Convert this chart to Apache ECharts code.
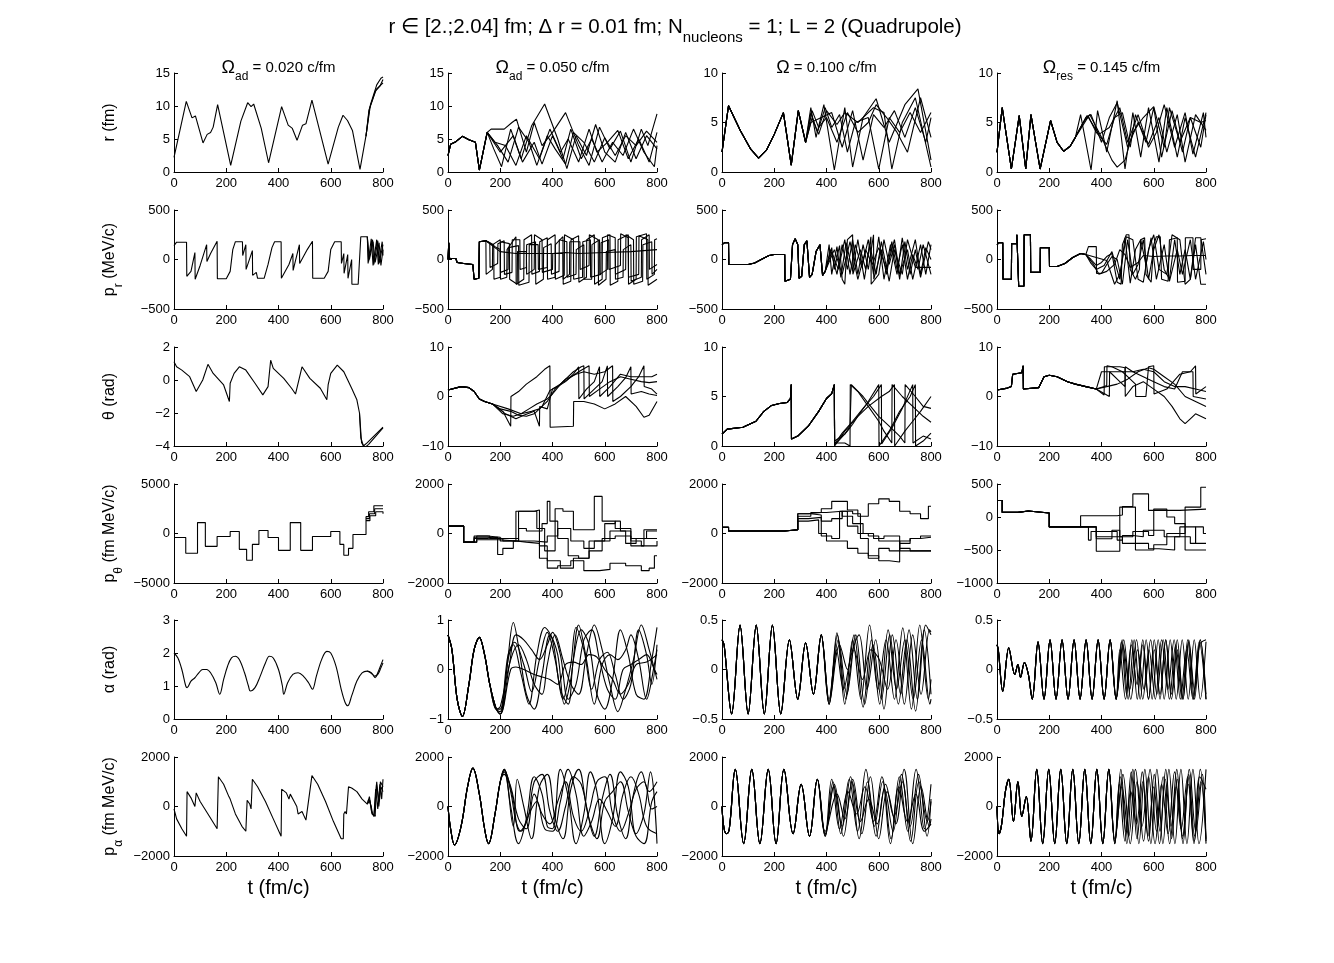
<!DOCTYPE html>
<html>
<head>
<meta charset="utf-8">
<script src="https://cdn.jsdelivr.net/npm/echarts@6/dist/echarts.min.js"></script>
<style>
  html, body { margin: 0; background: #fff; }
  #chart { width: 1334px; height: 963px; }
</style>
</head>
<body>
<div id="chart"></div>
<script>
// values, flat [t, v, t, v, ...]
const xTicks = [0, 200, 400, 600, 800];
const yMinRows = [[0, 0, 0, 0], [-500, -500, -500, -500], [-4, -10, 0, -10], [-5000, -2000, -2000, -1000], [0, -1, -0.5, -0.5], [-2000, -2000, -2000, -2000]];
const yMaxRows = [[15, 15, 10, 10], [500, 500, 500, 500], [2, 10, 10, 10], [5000, 2000, 2000, 500], [3, 1, 0.5, 0.5], [2000, 2000, 2000, 2000]];
const yStepRows = [[5, 5, 5, 5], [500, 500, 500, 500], [2, 10, 5, 10], [5000, 2000, 2000, 500], [1, 1, 0.5, 0.5], [2000, 2000, 2000, 2000]];

// ---- r ----
const r1 = [0,2.2, 47,10.7, 69,8.2, 82,8.5, 111,4.4, 127,5.7, 140,6.0, 150,6.8, 167,10.2, 217,1.0, 256,7.7, 282,10.5, 295,9.9, 305,10.3, 334,6.6, 362,1.4, 412,9.9, 437,7.1, 453,6.6, 471,4.8, 492,7.1, 505,7.3, 528,10.9, 590,1.2, 629,6.8, 647,8.6, 664,7.8, 683,6.3, 712,0.4, 735,5.5, 748,9.6, 774,12.5, 800,13.5];
const r1TailA = [735,5.5, 752,10.2, 776,13.2, 792,14.2, 800,14.4];
const r1TailB = [735,5.4, 746,9.3, 770,12.2, 788,13.0, 800,14.0];

const r2Common = [0,2.5, 10,4.2, 30,4.6, 55,5.4, 80,4.9, 105,4.5, 120,0.3, 150,6.0];
const r2A = [175,3.5, 205,0.8, 240,6.5, 280,2, 320,7, 370,10.3, 420,5, 455,0.5, 490,5.5, 530,2.5, 565,7.2, 600,3, 640,1.5, 680,6, 720,2, 760,5.5, 800,3.5];
const r2B = [165,6.5, 215,6.5, 245,7.5, 262,8, 300,3, 330,7.5, 360,4, 400,6, 450,9, 500,4, 540,1, 580,6.8, 620,3.5, 660,6.2, 700,1.5, 740,6.5, 765,4, 800,8.8];
const r2C = [190,4, 230,1.5, 270,6.8, 310,4.5, 340,1, 380,5.5, 410,3.5, 450,1.2, 480,6, 520,4.5, 560,1.5, 600,5.2, 640,2.5, 680,5.5, 720,4, 760,6.2, 800,4.5];
const r2D = [200,3, 250,5.5, 285,1.5, 330,4.5, 360,1.2, 400,5.5, 440,2, 470,6.5, 510,2, 550,5, 590,1.5, 630,4.5, 670,2.5, 710,6.5, 750,3, 790,0.8, 800,4];
const r2E = [180,4.5, 220,4, 260,1, 300,5.5, 350,2, 390,6.5, 430,3, 460,5, 500,1.5, 540,6.5, 570,3, 610,4.5, 650,6.3, 690,2, 730,5, 770,1.5, 800,6];

const r3Common = [0,2, 25,6.7, 70,4.2, 110,2.3, 140,1.4, 170,2.2, 200,3.8, 235,6, 265,0.7, 292,6.2, 320,3];
const r3A = [340,6.5, 360,3.5, 390,6.8, 430,0.2, 470,6.5, 500,0.5, 540,5.5, 590,7.4, 640,3, 700,6.8, 750,8.4, 800,1.2];
const r3B = [340,6, 365,4, 395,6.5, 420,4.5, 450,5.8, 480,2, 510,5, 560,5.5, 600,0.3, 640,5.5, 680,4, 720,6, 760,4, 800,6];
const r3C = [345,5.5, 370,3.8, 400,6.2, 440,4.8, 470,6, 520,5, 580,6.5, 620,6, 650,0.3, 690,5, 740,7.5, 800,0.5];
const r3D = [340,5, 380,5.5, 420,6, 460,2.5, 500,6.2, 540,1.2, 580,5.8, 620,4.5, 660,6.2, 700,3.5, 740,6.5, 780,3, 800,5.5];
const r3E = [345,6.2, 370,4.5, 400,5.5, 440,3, 480,6, 520,4, 560,5, 590,6.8, 630,5.5, 670,4, 710,2, 760,7.5, 800,3.5];

const r4Common = [0,2, 20,6.5, 55,0.3, 85,5.7, 110,0.3, 130,5.8, 165,0.3, 205,5.2, 230,3, 255,2.1, 280,2.6, 300,3.5];
const r4A = [320,5.8, 360,0.2, 385,6.2, 420,2, 460,7.2, 490,0.3, 520,6, 550,1.5, 580,6.5, 620,1, 650,6.5, 690,1.5, 720,5.5, 760,1.5, 800,6];
const r4B = [330,5, 355,5.8, 400,3.5, 440,1.2, 460,0.5, 490,1.2, 520,4, 560,5.5, 600,6.6, 640,2.5, 660,6.5, 700,3, 740,5.5, 780,5, 800,5.2];
const r4C = [340,5.5, 360,5.8, 400,3, 430,5.5, 460,7, 500,2.5, 540,5, 580,2.8, 620,5.5, 650,2, 690,5.8, 720,1, 760,5.8, 800,4.2];
const r4D = [350,5.6, 380,4, 420,2.8, 450,5.5, 480,6, 510,2.5, 530,5.8, 570,3, 600,6.5, 630,1.5, 670,6.2, 710,2, 740,5.5, 780,2.5, 800,5.8];
const r4E = [345,5.7, 390,3.8, 430,4.5, 470,6.5, 500,3, 540,5.8, 580,2.5, 610,4, 640,6.8, 680,2.5, 720,6, 750,1.8, 790,6, 800,3.5];

// ---- p_r ----
const pr1 = [0,140, 10,175, 48,175, 49,-170, 65,-120, 80,70, 81,-200, 100,-60, 125,150, 126,-20, 140,60, 165,185, 166,-195, 200,-195, 215,-120, 225,100, 235,180, 262,180, 263,40, 275,150, 276,-100, 300,90, 301,-160, 315,-130, 320,-190, 345,-190, 360,-50, 375,120, 385,180, 410,180, 411,-190, 440,-50, 455,60, 456,-110, 480,150, 481,-40, 510,100, 530,185, 531,-190, 575,-190, 590,-120, 600,100, 615,180, 640,180, 641,-40, 650,60, 651,-140, 665,50, 666,-190, 680,0, 681,-250, 705,-250, 715,230, 740,230, 745,-20, 760,200, 765,-50, 780,190, 785,-40, 800,150];
const pr1TailA = [740,230, 748,0, 762,180, 770,-30, 785,170, 792,-60, 800,100];
const pr1TailB = [740,230, 743,-40, 755,210, 762,-60, 776,200, 782,-50, 797,180, 800,40];

const pr2Common = [0,0, 3,170, 6,10, 30,10, 35,-30, 60,-40, 95,-50, 100,-200, 118,-190, 120,180, 145,190];
const pr2A = [146,-150, 170,-100, 171,150, 200,200, 201,-200, 225,-180, 226,100, 260,230, 261,-250, 290,-200, 291,200, 320,250, 321,-150, 350,-120, 351,180, 380,220, 381,-200, 410,-180, 411,150, 440,230, 441,-250, 470,-220, 471,200, 500,240, 501,-230, 530,-180, 531,200, 560,250, 561,-250, 590,-200, 591,220, 620,250, 621,-260, 650,-220, 651,200, 690,250, 691,-250, 720,-200, 721,230, 760,260, 761,-200, 790,-150, 791,200, 800,210];
const pr2B = [160,170, 161,-80, 190,-40, 191,160, 215,190, 216,-150, 245,-130, 246,200, 275,200, 276,-100, 300,-80, 301,150, 335,180, 336,-250, 365,-200, 366,120, 395,160, 396,-150, 425,-120, 426,200, 455,180, 456,-180, 490,-150, 491,100, 520,150, 521,-200, 550,-200, 551,150, 580,200, 581,-150, 610,-100, 611,250, 640,220, 641,-200, 670,-180, 671,100, 700,150, 701,-220, 740,-180, 741,200, 770,250, 771,-100, 800,-50];
const pr2C = [175,150, 176,-200, 200,-180, 201,180, 235,160, 236,-200, 265,-250, 266,80, 300,80, 301,-150, 330,-100, 331,250, 360,200, 361,-130, 400,-100, 401,60, 440,60, 441,-200, 465,-150, 466,180, 505,180, 506,-100, 540,-60, 541,250, 575,200, 576,-260, 605,-200, 606,80, 640,100, 641,-150, 680,-100, 681,250, 710,200, 711,-250, 745,-220, 746,150, 780,180, 781,-150, 800,-100];
const pr2D = [180,130, 200,100, 201,-130, 230,-100, 231,120, 270,140, 271,-260, 310,-230, 311,150, 345,150, 346,-100, 380,-80, 381,200, 410,250, 411,-200, 445,-160, 446,250, 480,200, 481,-200, 515,-180, 516,180, 545,200, 546,-180, 585,-150, 586,170, 615,200, 616,-100, 660,-60, 661,260, 690,220, 691,-180, 730,-150, 731,240, 765,200, 766,-260, 800,-200];
const pr2E = [200,80, 260,60, 300,60, 400,60, 450,70, 500,60, 600,70, 700,80, 800,100];

const pr3Common = [0,150, 10,170, 25,170, 26,-50, 100,-50, 125,-35, 150,0, 180,40, 200,50, 240,50, 241,-220, 262,-200, 270,150, 280,210, 290,150, 295,-190, 305,-170, 315,150, 325,190, 335,-180, 345,-150, 360,80, 375,150, 385,-160, 395,-120];
const pr3A = [420,120, 430,-100, 450,140, 460,-200, 470,-250, 480,200, 500,250, 501,-150, 530,100, 550,-100, 570,230, 571,-250, 600,-150, 620,200, 640,-50, 660,150, 680,-200, 700,180, 720,-150, 740,100, 760,-180, 790,180, 800,100];
const pr3B = [415,100, 440,-150, 460,150, 480,-100, 500,200, 520,-150, 540,150, 560,-100, 580,250, 581,-200, 610,100, 630,-150, 650,180, 670,-100, 690,150, 710,-200, 730,50, 750,-100, 770,150, 800,-150];
const pr3C = [410,150, 420,-150, 440,130, 455,-180, 475,170, 500,-120, 520,200, 545,-200, 565,150, 590,-150, 610,180, 640,-220, 660,100, 690,-150, 710,200, 740,-80, 760,-80, 800,-80];
const pr3D = [420,80, 445,-100, 470,200, 490,-150, 510,150, 535,-80, 560,200, 580,-150, 600,230, 620,-200, 645,150, 670,-150, 690,220, 710,-100, 740,200, 760,-150, 780,120, 800,0];
const pr3E = [430,100, 460,-150, 490,180, 520,-200, 550,100, 575,-50, 600,120, 630,-100, 660,200, 680,-150, 710,100, 730,-200, 760,150, 780,-150, 800,150];

const pr4Common = [0,150, 8,170, 22,170, 23,-200, 55,-200, 56,160, 75,160, 76,250, 82,250, 83,-270, 103,-270, 104,250, 128,250, 129,-130, 165,-130, 166,120, 200,120, 201,-70, 230,-70, 260,-40, 290,20, 320,60, 340,50];
const pr4A = [360,0, 380,-60, 400,-30, 420,30, 440,60, 460,-230, 475,-250, 480,150, 495,250, 505,250, 510,-100, 530,-200, 545,-100, 550,200, 565,220, 570,-150, 590,-230, 600,150, 610,230, 625,230, 630,-200, 655,-220, 660,200, 690,220, 691,-230, 720,-220, 721,220, 750,220, 751,-100, 780,-100, 781,200, 800,210];
const pr4B = [350,130, 380,130, 381,-140, 400,-140, 420,-50, 440,30, 460,0, 480,-250, 500,200, 520,-150, 540,-50, 560,200, 580,-200, 600,100, 620,250, 640,-100, 660,-200, 680,200, 700,-150, 720,100, 740,-200, 760,150, 780,-250, 800,-250];
const pr4C = [370,-50, 390,-150, 420,-120, 450,-50, 470,100, 490,50, 510,-80, 540,-30, 560,40, 600,30, 650,35, 700,35, 750,40, 800,40];
const pr4D = [360,-40, 380,-100, 410,-60, 440,80, 470,-200, 490,220, 510,-240, 530,100, 550,200, 570,-50, 590,220, 610,-200, 640,150, 660,-220, 690,100, 710,-150, 740,200, 760,-200, 790,180, 800,0];
const pr4E = [380,20, 420,-10, 450,-250, 470,-150, 495,230, 520,200, 540,-200, 560,-230, 580,100, 600,250, 620,-100, 650,-150, 670,250, 700,200, 720,-250, 740,-200, 760,220, 780,220, 800,-150];

// ---- theta ----
const th1 = [0,1.1, 10,0.8, 30,0.6, 60,0.2, 85,-0.7, 110,0, 130,0.95, 150,0.4, 190,-0.3, 212,-1.3, 215,-0.2, 230,0.4, 250,0.8, 275,0.6, 310,-0.2, 340,-0.9, 360,-0.4, 370,1.2, 380,0.7, 420,0.1, 450,-0.5, 465,-0.85, 490,0.8, 520,0.1, 560,-0.5, 585,-1.2, 590,-0.3, 600,0.4, 625,0.9, 650,0.5, 680,-0.5, 700,-1.2, 710,-2, 715,-3.5, 725,-4, 740,-3.8, 800,-2.85];
const th1Tail = [710,-2, 718,-3.8, 730,-4.1, 745,-3.9, 800,-2.9];

const th2Common = [0,1.3, 50,2, 80,1.8, 100,1, 120,-0.5, 140,-1, 170,-1.5];
const th2A = [210,-3, 240,-6, 241,0, 270,1, 300,2.5, 340,4, 370,5.5, 390,6.2, 391,-6.2, 480,-6, 481,-1, 520,-1, 560,-1.5, 600,-2.5, 640,-1.5, 680,0, 720,-2, 750,-4.2, 770,-3.8, 800,-1];
const th2B = [220,-3.5, 260,-4.5, 290,-3.8, 330,-3, 350,-6, 351,-2, 380,-2.5, 400,1.5, 430,2.5, 460,3.5, 500,5, 540,6.2, 541,0, 580,1.5, 620,3, 660,4, 700,3.5, 740,3, 770,2.8, 800,3];
const th2C = [210,-3.5, 250,-4, 280,-3.5, 310,-2.5, 340,-1.5, 380,-0.5, 400,0.5, 420,1.8, 440,3, 480,5, 510,6, 520,6.2, 521,-0.5, 560,1.5, 590,3, 610,6.2, 611,0, 650,2, 680,3.8, 700,6, 701,0.5, 740,1, 770,0.5, 800,0.2];
const th2D = [200,-2.5, 240,-3, 270,-3.8, 300,-4, 330,-3.5, 360,-2, 390,1.2, 420,2, 450,3, 480,4.5, 500,6, 501,-0.5, 530,1.5, 560,3, 580,6, 581,0, 620,2, 660,4.5, 700,4, 740,4, 780,4, 800,4.5];
const th2E = [230,-2.5, 280,-3.5, 320,-3, 350,-2.5, 380,-1, 410,1.5, 450,3.5, 490,4.5, 520,5, 560,4.5, 600,5, 630,6.2, 631,-1, 660,0, 700,2, 730,4, 750,6.2, 751,2, 780,1.5, 800,0.5];

const th3Common = [0,1.2, 20,1.7, 80,1.9, 130,2.5, 160,3.5, 190,4.1, 220,4.3, 250,4.4, 262,4.8, 265,6.2, 266,0.7, 290,1, 330,2, 370,3.5, 400,4.8, 420,5.3, 430,6.2];
const th3A = [431,0, 470,1.5, 520,3, 560,4.5, 600,6.2, 601,0, 640,1.5, 680,3.5, 720,5, 740,6.2, 741,0, 770,0.5, 800,1.3];
const th3B = [431,0.2, 460,1.3, 500,2.5, 540,3.8, 580,5, 610,6.2, 611,0.2, 650,1.8, 690,3.8, 730,6.2, 731,0.3, 770,1, 800,0.7];
const th3C = [431,0.5, 470,1.2, 490,2, 495,6.2, 540,5, 560,4.3, 600,3, 640,2, 680,1, 700,0.3, 701,6.2, 740,5, 770,4, 800,3.8];
const th3D = [431,0.3, 470,0.3, 490,0, 491,6.2, 520,5.5, 560,4, 600,2.5, 620,1.5, 650,0.3, 651,6.2, 690,5, 730,4, 770,3, 800,2.4];
const th3E = [431,0.1, 480,1.5, 500,2.2, 520,3, 560,4, 610,5, 640,5.5, 660,6.2, 661,0, 700,1.5, 730,2.5, 760,3.5, 800,5];

const th4Common = [0,1.3, 40,1.7, 55,2, 60,4.5, 95,4.8, 100,6.2, 101,1.5, 160,1.8, 180,4, 200,4.3, 230,4, 270,3, 300,2.5, 340,2, 380,1.5];
const th4A = [410,0.3, 411,6, 470,6, 490,5.8, 491,0, 520,2, 560,3, 600,1.5, 640,0, 670,-2, 700,-4.5, 720,-5.5, 740,-4.5, 760,-3.5, 800,-4.5];
const th4B = [420,2, 460,2.5, 480,3, 500,3.5, 540,5, 580,5.8, 600,5.5, 640,4, 680,2.5, 720,0, 760,-1, 800,-2];
const th4C = [410,2, 420,2.2, 421,6.2, 440,6, 460,5.5, 480,5, 500,4, 520,3, 530,2.5, 531,0, 570,0, 580,6, 600,6.2, 601,0.5, 650,1.5, 700,4.5, 740,5, 760,6.2, 761,0.5, 800,2];
const th4D = [400,5, 440,5, 480,5, 520,5, 560,5.5, 600,5, 640,3, 680,2, 720,2, 760,1.5, 800,1];
const th4E = [430,0, 431,5, 470,3, 490,2, 491,6, 520,5, 560,4, 600,3, 640,2, 680,1.5, 710,5, 750,5, 751,0, 800,-0.5];

// ---- p_theta (steps: value holds until next t) ----
const pt1 = [0,-400, 45,-2000, 90,1100, 120,-1300, 165,-300, 215,200, 250,-1600, 278,-2700, 300,-1100, 325,300, 360,-400, 400,-1700, 445,1100, 485,-1700, 530,-300, 600,200, 635,-1100, 650,-2200, 668,-1500, 685,-100, 735,1700, 745,2200, 765,2800, 800,2800];
const pt1TailA = [735,1500, 748,2000, 768,2500, 800,2500];
const pt1TailB = [735,1300, 750,1800, 772,2200, 800,2000];

const pt2A = [0,300, 60,-350, 110,-250, 200,-300, 260,900, 330,950, 350,-1000, 380,-1400, 420,-1300, 470,-1100, 520,-1500, 580,-1450, 620,-1200, 680,-1300, 740,-1500, 770,-1400, 790,-900, 800,-900];
const pt2B = [0,300, 60,-350, 110,-100, 150,-150, 200,-300, 270,900, 340,200, 370,-700, 410,1000, 440,900, 480,150, 560,1500, 590,500, 640,200, 700,-500, 750,150, 800,150];
const pt2C = [0,300, 60,-350, 100,-200, 150,-150, 190,-850, 210,-600, 250,-300, 270,200, 300,100, 360,400, 380,1300, 390,500, 420,-200, 460,-900, 500,-1000, 540,-300, 600,400, 640,500, 660,100, 700,-300, 740,-500, 800,-300];
const pt2D = [0,300, 60,-350, 100,-100, 160,-200, 220,-200, 270,-300, 330,-350, 380,-100, 420,200, 470,-300, 520,-600, 560,-300, 620,100, 680,-400, 720,-200, 760,100, 800,100];
const pt2E = [0,300, 60,-350, 100,-150, 150,-200, 210,-300, 260,-350, 300,-400, 350,-500, 380,-1100, 430,-1400, 480,-1000, 540,-700, 590,-200, 640,-100, 700,-200, 740,-200, 800,-200];

const pt3Common = [0,250, 25,100, 240,150];
const pt3A = [290,800, 330,850, 380,1000, 420,1300, 480,950, 520,700, 560,1200, 600,1400, 640,1300, 680,900, 720,800, 760,600, 790,1100, 800,1100];
const pt3B = [290,700, 340,850, 400,900, 460,700, 500,400, 540,0, 580,-200, 620,-100, 680,-700, 720,-700, 760,-700, 800,-700];
const pt3C = [290,600, 330,650, 380,-100, 420,-200, 450,900, 500,800, 530,-200, 560,-900, 600,-1100, 640,-1150, 680,-400, 720,-200, 760,-100, 800,-100];
const pt3D = [290,500, 330,550, 370,0, 400,-300, 450,-300, 480,-600, 520,-800, 560,-1000, 600,-600, 640,-700, 680,-300, 720,-200, 760,-150, 800,-150];
const pt3E = [290,800, 340,750, 380,500, 420,600, 460,900, 480,300, 520,0, 560,-100, 600,-300, 640,-300, 680,-600, 720,-700, 760,-700, 800,-700];

const pt4Common = [0,250, 20,70, 80,90, 120,60, 200,-150];
const pt4A = [320,20, 460,30, 480,160, 520,350, 580,100, 640,100, 700,120, 800,120];
const pt4B = [330,-150, 350,-350, 360,-220, 420,-220, 460,-350, 480,-280, 520,-300, 560,-200, 640,-300, 700,-150, 760,-400, 800,-400];
const pt4C = [330,-150, 380,-520, 460,-520, 470,150, 520,150, 530,-500, 600,-420, 650,-250, 720,150, 760,150, 780,450, 800,450];
const pt4D = [330,-150, 380,-330, 440,-200, 470,-300, 520,-220, 580,-280, 600,120, 650,0, 680,-100, 720,-500, 800,-500];
const pt4E = [330,-150, 380,-300, 440,-300, 480,-400, 540,-400, 580,-480, 620,-500, 680,-300, 740,-400, 760,-150, 790,-250, 800,-250];

// ---- alpha ----
const al1 = [0,2, 15,1.85, 30,1.5, 45,1.0, 50,0.95, 65,1.15, 80,1.25, 95,1.4, 110,1.5, 125,1.5, 140,1.4, 160,1.1, 175,0.75, 190,1.2, 205,1.6, 220,1.85, 235,1.9, 250,1.8, 270,1.4, 285,1.0, 292,0.85, 310,0.95, 330,1.3, 350,1.7, 365,1.9, 380,1.85, 400,1.5, 415,1.0, 420,0.75, 435,1.1, 455,1.35, 475,1.4, 495,1.3, 515,1.1, 530,0.9, 545,1.3, 565,1.8, 585,2.05, 600,2.0, 620,1.6, 640,0.9, 655,0.5, 665,0.4, 680,0.7, 700,1.15, 720,1.4, 740,1.45, 760,1.35, 770,1.25, 780,1.4, 790,1.6, 800,1.8];
const al1Tail = [740,1.45, 755,1.4, 768,1.3, 780,1.35, 792,1.55, 800,1.7];

const al2Common = [0,0.7, 15,0.4, 35,-0.6, 55,-0.95, 80,-0.3, 100,0.4, 120,0.65, 140,0.3, 160,-0.3, 185,-0.8];
const al2A = [200,-0.9, 225,0, 250,0.95, 275,0.3, 300,-0.5, 330,-0.8, 360,-0.1, 390,0.7, 420,0.3, 445,-0.7, 470,-0.2, 500,0.9, 530,0.2, 560,-0.7, 590,0.1, 620,0.3, 650,0.2, 680,0.4, 700,0.7, 730,0.2, 760,-0.6, 790,0.1, 800,0.4];
const al2B = [200,-0.8, 230,0.3, 255,0.55, 290,0.1, 320,-0.45, 350,0.2, 380,0.75, 410,0.2, 440,-0.6, 470,0.1, 490,0.85, 520,0.4, 550,-0.4, 580,0.2, 610,0.35, 640,-0.1, 670,-0.6, 700,-0.3, 730,0.8, 760,0.3, 780,-0.3, 800,0.5];
const al2C = [200,-0.85, 230,0.2, 250,0.5, 280,-0.1, 310,-0.7, 340,0.3, 370,0.85, 400,0.6, 430,-0.4, 460,-0.7, 480,0.2, 510,0.8, 540,0.5, 570,-0.5, 600,-0.8, 630,-0.2, 660,0.8, 690,0.3, 720,-0.5, 750,-0.6, 780,0.2, 800,0.85];
const al2D = [200,-0.9, 235,0.1, 260,0.7, 290,0.6, 320,0.4, 350,0.2, 380,0.5, 400,0.75, 430,0.3, 460,-0.6, 490,-0.3, 520,0.6, 550,0.8, 580,0.2, 610,-0.4, 640,-0.6, 670,0, 700,0.1, 730,0.2, 760,0.3, 790,0, 800,-0.1];
const al2E = [200,-0.75, 240,0.2, 270,0.5, 300,0.2, 330,-0.3, 360,-0.5, 380,0.1, 410,0.7, 440,0.2, 470,-0.3, 500,-0.5, 530,0.3, 560,0.9, 590,0.4, 620,-0.3, 650,-0.85, 680,-0.4, 710,0.2, 740,0.9, 770,0.4, 800,-0.2];
const al2F = [200,-0.9, 240,0, 260,0.05, 290,0, 330,-0.1, 360,-0.15, 390,-0.2, 420,-0.3, 450,0.1, 480,0.15, 510,0.1, 540,0.3, 570,0.25, 600,0, 630,-0.2, 660,-0.5, 690,-0.3, 720,0.1, 760,0.15, 800,0.3];

const al3Common = [0,0.3, 8,0.25, 37,-0.45, 69,0.45, 100,-0.45, 131,0.45, 162,-0.45, 193,0.45, 225,-0.45, 258,0.3, 290,-0.3, 320,0.27, 350,-0.25, 380,0.35];
const al3A = [410,-0.35, 440,0.37, 470,-0.35, 500,0.3, 532,-0.3, 565,0.45, 597,-0.2, 628,0.3, 660,-0.3, 692,0.42, 725,-0.4, 757,0.45, 790,-0.3, 800,-0.1];
const al3B = [410,-0.35, 445,0.3, 478,-0.25, 512,0.35, 546,-0.35, 578,0.25, 610,-0.3, 642,0.35, 675,-0.35, 708,0.3, 741,-0.42, 774,0.4, 800,-0.25];
const al3C = [410,-0.3, 438,0.2, 465,-0.2, 495,0.15, 525,0.35, 555,-0.2, 588,0.3, 620,-0.4, 652,0.35, 684,-0.25, 716,0.4, 748,-0.3, 780,0.45, 800,0.35];
const al3D = [410,-0.35, 450,0.25, 480,0, 505,0.35, 540,-0.38, 572,0.3, 604,-0.35, 636,0.4, 668,-0.2, 700,0.3, 732,-0.3, 764,0.3, 796,-0.35, 800,-0.3];
const al3E = [410,-0.32, 442,0.35, 474,-0.3, 506,0.2, 538,-0.1, 570,0.2, 602,0.1, 634,-0.2, 666,0.3, 698,-0.35, 730,0.35, 762,-0.25, 794,0.4, 800,0.38];

const al4Common = [0,0.25, 5,0.2, 22,-0.22, 45,0.22, 68,-0.05, 80,0.05, 90,-0.08, 105,0.07, 120,-0.05, 135,-0.3, 157,0.28, 180,-0.3, 203,0.3, 226,-0.3, 249,0.3, 272,-0.3, 295,0.3, 318,-0.3, 341,0.3, 364,-0.3, 387,0.3, 410,-0.3, 433,0.3];
const al4A = [456,-0.3, 479,0.3, 502,-0.3, 525,0.3, 548,-0.3, 571,0.3, 594,-0.3, 617,0.3, 640,-0.3, 663,0.3, 686,-0.3, 709,0.3, 732,-0.3, 755,0.3, 778,-0.3, 800,0.28];
const al4B = [456,-0.3, 476,0.28, 496,-0.25, 516,0.3, 537,-0.3, 558,0.25, 580,-0.3, 602,0.3, 624,-0.3, 646,0.3, 668,-0.25, 690,0.3, 712,-0.3, 734,0.28, 756,-0.3, 778,0.3, 800,-0.3];
const al4C = [456,-0.3, 482,0.25, 508,-0.2, 534,0.3, 558,-0.3, 582,0.2, 606,-0.3, 630,0.3, 654,-0.2, 678,0.3, 702,-0.3, 726,0.2, 750,-0.3, 774,0.28, 800,-0.3];
const al4D = [456,-0.3, 470,0.2, 492,-0.3, 514,0.25, 536,-0.15, 558,0.3, 580,-0.3, 602,0.2, 624,-0.25, 646,0.3, 668,-0.3, 690,0.2, 712,-0.3, 734,0.3, 756,-0.2, 778,0.3, 800,-0.25];
const al4E = [456,-0.3, 485,0.3, 512,-0.3, 538,0.2, 563,-0.2, 588,0.3, 612,-0.25, 636,0.3, 660,-0.3, 684,0.25, 708,-0.3, 730,0.3, 752,-0.3, 775,0.25, 800,0.3];

// ---- p_alpha ----
const pa1 = [0,-100, 10,-500, 30,-900, 48,-1200, 50,600, 65,350, 80,0, 85,550, 100,200, 130,-300, 165,-900, 170,1200, 190,900, 210,400, 215,300, 235,-300, 260,-800, 275,-1000, 280,250, 290,100, 295,-100, 300,1100, 320,800, 350,200, 380,-500, 410,-1200, 412,700, 430,550, 440,300, 445,500, 460,200, 470,0, 475,-300, 490,-200, 505,-550, 528,1250, 550,900, 580,200, 610,-600, 640,-1300, 648,-1300, 650,-300, 655,-200, 660,-300, 668,800, 680,750, 700,600, 720,300, 740,100, 745,300, 755,0, 760,-300, 770,-400, 775,900, 785,200, 790,1000, 800,800];
const pa1TailA = [740,100, 748,400, 756,-200, 765,-400, 772,700, 780,-100, 788,900, 795,300, 800,1100];
const pa1TailB = [740,100, 750,250, 758,-300, 766,-350, 776,1000, 784,0, 792,800, 800,600];

const pa2Common = [0,0, 10,-900, 25,-1550, 50,-800, 75,800, 95,1550, 120,500, 140,-900, 155,-1500, 180,-300, 200,1000];
const pa2A = [215,1500, 240,0, 270,-1500, 300,-500, 330,1200, 360,500, 380,-800, 400,-900, 430,1500, 460,400, 490,-1500, 520,-300, 545,1400, 570,600, 600,-1500, 630,-500, 660,1400, 690,800, 720,-1100, 750,-300, 775,1400, 800,-1500];
const pa2B = [215,1400, 250,-800, 265,1100, 290,0, 320,-1300, 350,800, 380,1300, 410,-500, 440,-1300, 470,700, 500,1500, 530,0, 560,-1200, 590,300, 620,1300, 650,-400, 680,-1300, 710,500, 740,1400, 770,600, 800,1000];
const pa2C = [215,1450, 245,500, 275,-1000, 305,-500, 330,1000, 360,1300, 390,-200, 420,-1000, 450,0, 480,1200, 510,900, 540,-500, 570,-1300, 600,200, 630,600, 660,1000, 690,-200, 720,-1200, 750,-1500, 780,200, 800,600];
const pa2D = [215,1300, 240,800, 270,-500, 300,-900, 330,500, 360,-300, 390,-700, 420,200, 450,1000, 480,-400, 510,-1000, 540,-200, 570,1000, 600,1200, 630,-300, 660,-1000, 690,-300, 720,700, 750,1000, 780,-100, 800,0];
const pa2E = [215,1500, 240,600, 260,-600, 280,-1000, 310,-300, 340,200, 370,-900, 400,-1000, 430,200, 460,1500, 490,500, 520,-1200, 550,-600, 580,300, 610,-200, 640,-800, 670,500, 700,1200, 730,500, 760,-800, 800,-1100];

const pa3Common = [0,0, 8,-900, 18,-1100, 28,-900, 51,1500, 83,-1500, 114,1500, 145,-1500, 177,1500, 207,-1500, 237,1500, 272,-1100, 303,900, 335,-1200, 365,1100];
const pa3A = [395,-1200, 425,1000, 455,-1100, 487,1100, 519,-1000, 551,1500, 583,-800, 615,1000, 647,-1300, 679,1200, 711,-1000, 743,1500, 775,-900, 800,900];
const pa3B = [395,-1100, 428,800, 460,-800, 492,1200, 525,-1300, 557,1000, 590,-1200, 622,700, 655,-1000, 687,1300, 720,-800, 752,1300, 785,-1200, 800,300];
const pa3C = [395,-1150, 420,1100, 450,-900, 482,600, 515,-300, 547,800, 580,-600, 612,1200, 645,-1500, 677,800, 710,-600, 742,500, 775,-1000, 800,-700];
const pa3D = [395,-1200, 430,900, 465,-1200, 498,1000, 530,-600, 562,300, 594,-700, 626,900, 658,-400, 690,1000, 722,-1400, 754,1000, 786,-600, 800,200];
const pa3E = [395,-1000, 440,500, 470,-500, 500,1100, 535,-1100, 568,1200, 600,-1300, 632,600, 665,-700, 697,1500, 730,-1500, 762,800, 794,-800, 800,-500];

const pa4Common = [0,0, 8,-1100, 18,-700, 32,600, 45,1100, 63,-600, 80,1000, 95,-400, 112,400, 130,-1400, 152,1500, 175,-1500, 198,1500, 221,-1500, 244,1500, 267,-1500, 290,1500, 313,-1500, 336,1500, 359,-1500, 382,1500, 405,-1500, 428,1500];
const pa4A = [451,-1500, 474,1500, 497,-1500, 520,1500, 543,-1500, 566,1500, 589,-1500, 612,1500, 635,-1500, 658,1500, 681,-1500, 704,1500, 727,-1500, 750,1500, 773,-1500, 800,1500];
const pa4B = [451,-1500, 472,1200, 493,-1000, 514,1400, 536,-1300, 558,1000, 580,-1400, 602,1300, 624,-1000, 646,1500, 668,-1300, 690,1100, 712,-1500, 734,1300, 756,-1200, 778,1500, 800,-1300];
const pa4C = [451,-1400, 478,800, 504,-1200, 530,1500, 555,-800, 580,1200, 605,-1500, 630,900, 655,-1100, 680,1400, 705,-900, 730,1200, 755,-1400, 780,1000, 800,-1400];
const pa4D = [451,-1500, 468,900, 490,-1400, 512,600, 534,-700, 556,1400, 578,-1200, 600,800, 622,-1500, 644,1100, 666,-800, 688,1500, 710,-1300, 732,900, 754,-1500, 776,1200, 800,700];
const pa4E = [451,-1300, 482,1300, 510,-1500, 536,1000, 561,-1400, 586,1500, 611,-1000, 636,1200, 661,-1500, 686,800, 711,-1200, 736,1500, 761,-1000, 786,1300, 800,-1500];

const colTitles = [
  '{o|Ω}{s|ad} = 0.020 c/fm',
  '{o|Ω}{s|ad} = 0.050 c/fm',
  '{o|Ω} = 0.100 c/fm',
  '{o|Ω}{s|res} = 0.145 c/fm'
];
const rowNames = ['r (fm)', 'p{s|r} (MeV/c)', 'θ (rad)', 'p{s|θ} (fm MeV/c)', 'α (rad)', 'p{s|α} (fm MeV/c)'];

// ---------------- build ----------------
const pairs = (a) => {
  const out = [];
  for (let i = 0; i < a.length; i += 2) out.push([a[i], a[i + 1]]);
  return out;
};
const join = (c, b) => pairs(c.concat(b));

const panelLines = [
  [pairs(r1), pairs(r1TailA), pairs(r1TailB)],
  [r2A, r2B, r2C, r2D, r2E].map((b) => join(r2Common, b)),
  [r3A, r3B, r3C, r3D, r3E].map((b) => join(r3Common, b)),
  [r4A, r4B, r4C, r4D, r4E].map((b) => join(r4Common, b)),
  [pairs(pr1), pairs(pr1TailA), pairs(pr1TailB)],
  [pr2A, pr2B, pr2C, pr2D, pr2E].map((b) => join(pr2Common, b)),
  [pr3A, pr3B, pr3C, pr3D, pr3E].map((b) => join(pr3Common, b)),
  [pr4A, pr4B, pr4C, pr4D, pr4E].map((b) => join(pr4Common, b)),
  [pairs(th1), pairs(th1Tail)],
  [th2A, th2B, th2C, th2D, th2E].map((b) => join(th2Common, b)),
  [th3A, th3B, th3C, th3D, th3E].map((b) => join(th3Common, b)),
  [th4A, th4B, th4C, th4D, th4E].map((b) => join(th4Common, b)),
  [pairs(pt1), pairs(pt1TailA), pairs(pt1TailB)],
  [pt2A, pt2B, pt2C, pt2D, pt2E].map(pairs),
  [pt3A, pt3B, pt3C, pt3D, pt3E].map((b) => join(pt3Common, b)),
  [pt4A, pt4B, pt4C, pt4D, pt4E].map((b) => join(pt4Common, b)),
  [pairs(al1), pairs(al1Tail)],
  [al2A, al2B, al2C, al2D, al2E, al2F].map((b) => join(al2Common, b)),
  [al3A, al3B, al3C, al3D, al3E].map((b) => join(al3Common, b)),
  [al4A, al4B, al4C, al4D, al4E].map((b) => join(al4Common, b)),
  [pairs(pa1), pairs(pa1TailA), pairs(pa1TailB)],
  [pa2A, pa2B, pa2C, pa2D, pa2E].map((b) => join(pa2Common, b)),
  [pa3A, pa3B, pa3C, pa3D, pa3E].map((b) => join(pa3Common, b)),
  [pa4A, pa4B, pa4C, pa4D, pa4E].map((b) => join(pa4Common, b))
];

const FONT = '"Liberation Sans", Arial, Helvetica, sans-serif';
const colLeft = [174, 448, 722, 997];
const rowTop = [73, 210, 347, 484, 620, 757];
const W = 209, H = 99;
const minus = (v) => String(v).replace('-', '\u2212');

const grids = [], xAxes = [], yAxes = [], series = [];
for (let r = 0; r < 6; r++) {
  for (let c = 0; c < 4; c++) {
    const i = r * 4 + c;
    grids.push({ left: colLeft[c], top: rowTop[r], width: W, height: H });
    const common = {
      gridIndex: i,
      type: 'value',
      axisLine: { show: true, onZero: false, lineStyle: { color: '#000', width: 1 } },
      axisTick: { show: true, inside: true, length: 4, lineStyle: { color: '#000' } },
      axisLabel: { color: '#000', fontSize: 13, fontFamily: FONT, formatter: minus },
      splitLine: { show: false }
    };
    xAxes.push(Object.assign({}, common, {
      min: xTicks[0], max: xTicks[xTicks.length - 1], interval: 200,
      axisLabel: Object.assign({}, common.axisLabel, { margin: 5 })
    }));
    yAxes.push(Object.assign({}, common, {
      min: yMinRows[r][c], max: yMaxRows[r][c], interval: yStepRows[r][c],
      axisLabel: Object.assign({}, common.axisLabel, { margin: 4 })
    }));
    const smooth = r === 4 ? 0.35 : (r === 5 && c > 0 ? 0.4 : false);
    panelLines[i].forEach((d) => {
      series.push({
        type: 'line', xAxisIndex: i, yAxisIndex: i, data: d,
        showSymbol: false, smooth: smooth, step: r === 3 ? 'end' : false,
        lineStyle: { color: '#000', width: 1.1 }, silent: true, animation: false
      });
    });
  }
}

const subRich = (size, drop, omega) => ({
  s: { fontSize: size, fontFamily: FONT, fill: '#000', padding: [drop, 0, 0, 0] },
  o: { fontSize: omega, fontFamily: FONT, fill: '#000' }
});
const txt = (x, y, text, size, rich, rot) => ({
  type: 'text', x: x, y: y, rotation: rot || 0,
  style: {
    text: text, fontSize: size, fontFamily: FONT, fill: '#000',
    align: 'center', verticalAlign: 'middle', textAlign: 'center', textVerticalAlign: 'middle',
    rich: rich
  }
});
const graphics = [];
graphics.push(txt(675, 27, 'r ∈ [2.;2.04] fm; Δ r = 0.01 fm; N{s|nucleons} = 1; L = 2 (Quadrupole)', 20.5, subRich(15, 22, 20)));
colTitles.forEach((t, c) => {
  graphics.push(txt(colLeft[c] + W / 2, 68, t, 15, subRich(12, 18, 18)));
  graphics.push(txt(colLeft[c] + W / 2, 888, 't (fm/c)', 20));
});
rowNames.forEach((t, r) => {
  graphics.push(txt(110, rowTop[r] + H / 2, t, 16, subRich(12, 18, 16), Math.PI / 2));
});

const chart = echarts.init(document.getElementById('chart'));
chart.setOption({
  backgroundColor: '#fff',
  animation: false,
  grid: grids,
  xAxis: xAxes,
  yAxis: yAxes,
  series: series,
  graphic: graphics
});
</script>
</body>
</html>
